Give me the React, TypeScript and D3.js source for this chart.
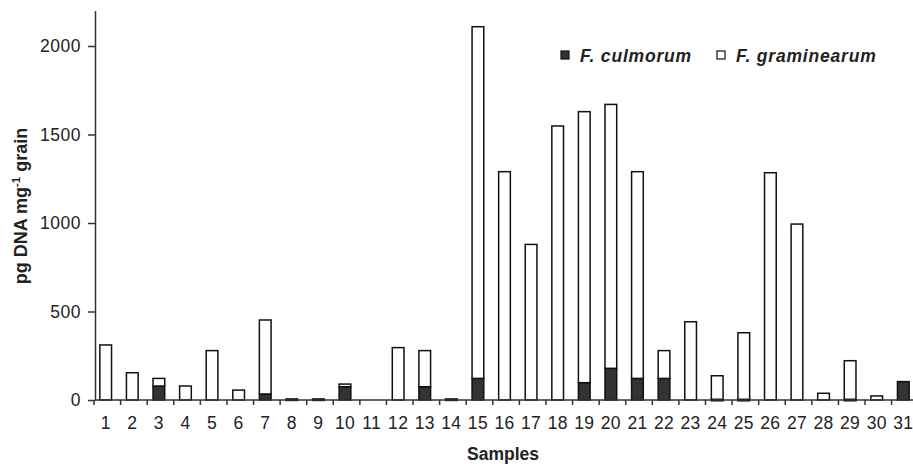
import { useRef, useEffect } from 'react'
import * as d3 from 'd3'

const samples = d3.range(1, 32).map(String)
// F. culmorum (dark, bottom of stack)
const culmorum = [
  0, 0, 79, 0, 0, 0, 34, 6, 6, 75, 0, 0, 75, 6, 122, 0, 0, 0, 98, 179, 122,
  122, 0, 4, 4, 0, 0, 0, 4, 0, 104,
]
// total height of each bar (culmorum + graminearum)
const totals = [
  311, 154, 122, 79, 279, 56, 452, 6, 6, 90, 0, 296, 279, 6, 2109, 1290, 879,
  1548, 1629, 1670, 1290, 279, 442, 137, 380, 1284, 994, 38, 222, 23, 104,
]
const graminearum = totals.map((t, i) => Math.max(0, t - culmorum[i]))
const yTicks = [0, 500, 1000, 1500, 2000]
const seriesNames = ['F. culmorum', 'F. graminearum']
const seriesColors = ['#333333', '#ffffff']

const App: React.FC = () => {
  const chartRef = useRef<SVGSVGElement>(null)

  useEffect(() => {
    if (!chartRef.current) return

    const width = 913
    const height = 464
    const font = '"Liberation Sans", Arial, sans-serif'

    const svg = d3.select(chartRef.current)
    svg.selectAll('*').remove()
    svg.attr('width', width).attr('height', height)

    const x = d3
      .scaleBand<string>()
      .domain(samples)
      .range([94, 915])
      .paddingInner(0.56)
      .paddingOuter(0.22)

    const y = d3.scaleLinear().domain([0, 2200]).range([400, 10.6])

    const rows = samples.map((s, i) => ({
      sample: s,
      culmorum: culmorum[i],
      graminearum: graminearum[i],
    }))
    const stack = d3
      .stack<{ sample: string; culmorum: number; graminearum: number }>()
      .keys(['culmorum', 'graminearum'])
    const layers = stack(rows)

    const g = svg.append('g')
    layers.forEach((layer, li) => {
      g.selectAll(null)
        .data(layer.filter((d) => d[1] - d[0] > 0))
        .enter()
        .append('rect')
        .attr('x', (d) => x(d.data.sample)!)
        .attr('width', x.bandwidth())
        .attr('y', (d) => y(d[1]))
        .attr('height', (d) => Math.max(1.5, y(d[0]) - y(d[1])))
        .attr('fill', seriesColors[li])
        .attr('stroke', '#111')
        .attr('stroke-width', 1.5)
    })

    // y axis
    const yAxis = svg.append('g').attr('transform', 'translate(95,0)')
    yAxis.call(
      d3
        .axisLeft(y)
        .tickValues(yTicks)
        .tickFormat(d3.format('d'))
        .tickSize(7)
        .tickSizeOuter(0)
        .tickPadding(7)
    )
    yAxis.select('.domain').attr('stroke', '#333').attr('stroke-width', 1.5)
    yAxis.selectAll('.tick line').attr('stroke', '#333').attr('stroke-width', 1.5)
    yAxis
      .selectAll('.tick text')
      .attr('font-family', font)
      .attr('font-size', 17.5)
      .attr('letter-spacing', 0.5)
      .attr('fill', '#222')

    // x axis with ticks between categories
    const xAxis = svg.append('g').attr('transform', 'translate(0,400)')
    xAxis
      .append('line')
      .attr('x1', 95)
      .attr('x2', width)
      .attr('stroke', '#333')
      .attr('stroke-width', 1.5)
    const step = x.step()
    const start = x.range()[0]
    xAxis
      .selectAll(null)
      .data(samples)
      .enter()
      .append('line')
      .attr('x1', (_, i) => start + i * step)
      .attr('x2', (_, i) => start + i * step)
      .attr('y2', 5)
      .attr('stroke', '#333')
      .attr('stroke-width', 1.5)
    xAxis
      .selectAll(null)
      .data(samples)
      .enter()
      .append('text')
      .attr('x', (d) => x(d)! + x.bandwidth() / 2)
      .attr('y', 29)
      .attr('text-anchor', 'middle')
      .attr('font-family', font)
      .attr('font-size', 17.5)
      .attr('letter-spacing', 0.3)
      .attr('fill', '#222')
      .text((d) => d)

    // axis titles
    svg
      .append('text')
      .attr('x', 503)
      .attr('y', 460)
      .attr('text-anchor', 'middle')
      .attr('font-family', font)
      .attr('font-weight', 'bold')
      .attr('font-size', 17.5)
      .attr('fill', '#222')
      .text('Samples')

    const yLabel = svg
      .append('text')
      .attr('transform', 'translate(27,206) rotate(-90)')
      .attr('text-anchor', 'middle')
      .attr('font-family', font)
      .attr('font-weight', 'bold')
      .attr('font-size', 18)
      .attr('fill', '#222')
    yLabel.append('tspan').text('pg DNA mg')
    yLabel.append('tspan').attr('font-size', 11.5).attr('dy', -7.5).text('-1')
    yLabel.append('tspan').attr('dy', 7.5).text(' grain')

    // legend
    const legendX = [561, 717]
    seriesNames.forEach((name, i) => {
      svg
        .append('rect')
        .attr('x', legendX[i])
        .attr('y', 51)
        .attr('width', 8)
        .attr('height', 8)
        .attr('fill', seriesColors[i])
        .attr('stroke', '#111')
        .attr('stroke-width', 1.2)
      svg
        .append('text')
        .attr('x', legendX[i] + 19)
        .attr('y', 62)
        .attr('font-family', font)
        .attr('font-weight', 'bold')
        .attr('font-style', 'italic')
        .attr('font-size', 17.5)
        .attr('letter-spacing', 0.8)
        .attr('fill', '#222')
        .text(name)
    })
  }, [])

  return (
    <div style={{ position: 'absolute', left: 0, top: 0 }}>
      <svg ref={chartRef} />
    </div>
  )
}

export default App
